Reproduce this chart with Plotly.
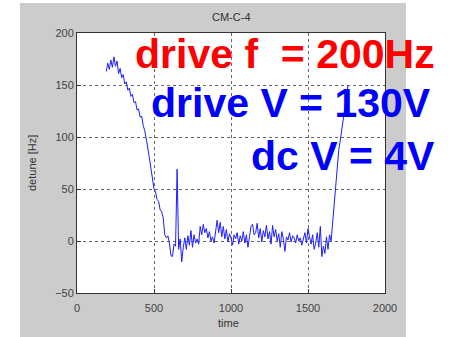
import plotly.graph_objects as go

# time axis (samples every 10 units)
time = list(range(190, 1770, 10))
detune = [
    163, 171, 165, 174, 167, 177, 168, 173, 161, 166, 157, 160, 151, 153,
    145, 147, 139, 141, 133, 134, 126, 127, 119, 120, 111, 106, 98, 90, 80, 70,
    61, 50, 47, 40, 38, 30, 28, 22, 6, 3, 5, -2, -14, -15, -3, -5, 69, -8, 2, -20, -6,
    3, -8, 5, -4, 10, -6, 6, -2, 2, -3, 14, 6, 16, 8, 12, 3, 9, 0, 4, -2,
    10, 20, 8, 18, 4, 14, 2, 11, -1, 7, 3, -4, 6, 2, 8, -3, 5, 0, 9, -2,
    6, -6, 4, 14, 16, 6, 8, 17, 3, 12, -1, 10, 4, 15, 2, 9, -3, 15, 4, 11,
    0, 7, -6, 9, 2, -10, 4, 1, 8, -1, 5, 3, -2, 6, 0, 3, -4, 2, 8, -2,
    12, 4, -3, 6, -8, -2, 8, -6, 14, -15, -5, -12, 4, -8, 6, 0, 18, 30, 52, 70,
    88, 97, 108, 118, 126, 138, 150,
]
n = min(len(time), len(detune))
time, detune = time[:n], detune[:n]

x_ticks = [0, 500, 1000, 1500, 2000]
y_ticks = [-50, 0, 50, 100, 150, 200]
title_text = "CM-C-4"
x_label = "time"
y_label = "detune [Hz]"
notes = ["drive f  = 200Hz", "drive V = 130V", "dc V = 4V"]
note_colors = ["#ff0000", "#0000ff", "#0000ff"]

W, H = 452, 337
L, R, T, B = 77, 385, 33, 293
pw, ph = R - L, B - T

def px(x):
    return (x - L) / pw

def py(y):
    return (B - y) / ph

fig = go.Figure()
fig.add_trace(go.Scatter(x=time, y=detune, mode="lines",
                         line=dict(color="rgb(30,30,255)", width=1),
                         showlegend=False, hoverinfo="skip"))

axis_common = dict(showline=True, mirror=True, linecolor="#333", linewidth=1,
                   ticks="inside", ticklen=4, tickcolor="#333",
                   showgrid=True, gridcolor="#666", gridwidth=1, griddash="3px,3px",
                   zeroline=False,
                   tickfont=dict(family="Liberation Sans, Arial", size=11, color="#444"))

fig.update_xaxes(range=[0, 2000], tickvals=x_ticks, ticklabelstandoff=5, **axis_common)
fig.update_yaxes(range=[-50, 200], tickvals=y_ticks, **axis_common)

shapes = [
    dict(type="rect", xref="paper", yref="paper", x0=px(20), x1=px(406), y0=py(345), y1=py(3),
         fillcolor="#cccccc", line=dict(width=0), layer="below"),
    dict(type="rect", xref="paper", yref="paper", x0=0, x1=1, y0=0, y1=1,
         fillcolor="white", line=dict(width=0), layer="below"),
]

lab_font = dict(family="Liberation Sans, Arial", size=11, color="#333")
annotations = [
    dict(text=title_text, x=0.5, y=py(17), xref="paper", yref="paper", showarrow=False,
         xanchor="center", yanchor="middle", font=lab_font),
    dict(text=x_label, x=px(228), y=py(323), xref="paper", yref="paper", showarrow=False,
         xanchor="center", yanchor="middle", font=lab_font),
    dict(text=y_label, x=px(32), y=0.5, xref="paper", yref="paper", showarrow=False,
         xanchor="center", yanchor="middle", textangle=-90, font=lab_font),
]
note_pos = [(437, 53.5), (433, 103), (437, 156)]
for txt, col, (nx, ny) in zip(notes, note_colors, note_pos):
    annotations.append(dict(text="<b>" + txt.replace("  ", "&nbsp; ") + "</b>", x=px(nx), y=py(ny),
                            xref="paper", yref="paper", xanchor="right", yanchor="middle",
                            showarrow=False,
                            font=dict(family="Liberation Sans, Arial", size=41, color=col)))

fig.update_layout(width=W, height=H, margin=dict(l=L, r=W - R, t=T, b=H - B),
                  paper_bgcolor="white", plot_bgcolor="white",
                  shapes=shapes, annotations=annotations)

fig.write_html("out.html")
